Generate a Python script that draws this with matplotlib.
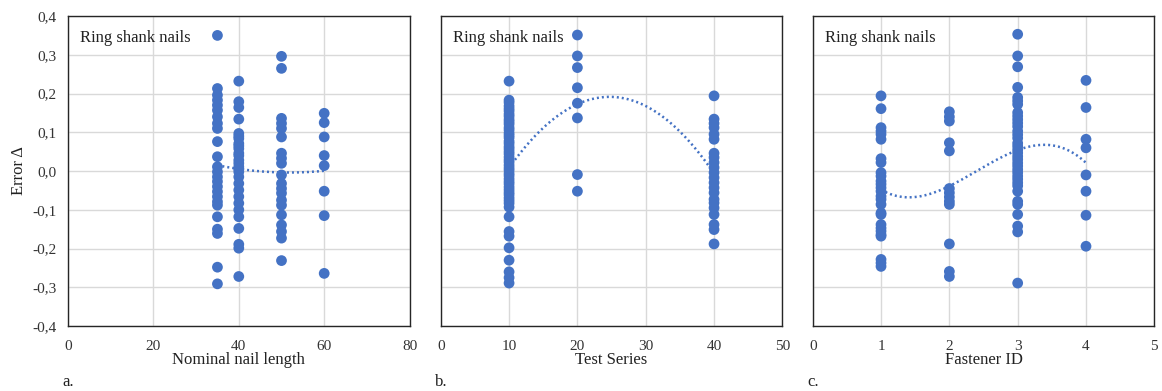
import numpy as np
import matplotlib
matplotlib.use("Agg")
import matplotlib.pyplot as plt
from matplotlib.ticker import FuncFormatter

plt.rcParams['font.family'] = ['Liberation Serif', 'DejaVu Serif']

BLUE = '#4472C4'
GRID = '#D9D9D9'

# ---- a. error vs nominal nail length ----
len_35 = [0.350, 0.213, 0.196, 0.183, 0.170, 0.157, 0.140, 0.123, 0.110, 0.076,
          0.037, 0.011, -0.002, -0.015, -0.027, -0.040, -0.053, -0.066, -0.079,
          -0.088, -0.118, -0.150, -0.161, -0.248, -0.291]
len_40 = [0.232, 0.179, 0.164, 0.134, 0.097, 0.090, 0.084, 0.071, 0.065, 0.058,
          0.046, 0.040, 0.028, 0.020, 0.011, 0.005, -0.002, -0.015, -0.032, -0.049,
          -0.066, -0.083, -0.100, -0.118, -0.148, -0.189, -0.199, -0.272]
len_50 = [0.296, 0.265, 0.136, 0.123, 0.110, 0.088, 0.046, 0.033, 0.020, -0.010,
          -0.032, -0.045, -0.057, -0.075, -0.088, -0.113, -0.139, -0.156, -0.173,
          -0.231]
len_60 = [0.149, 0.125, 0.088, 0.040, 0.014, -0.052, -0.115, -0.264]
lengths = [35, 40, 50, 60]

# ---- b. error vs test series ----
ser_10 = [0.232, 0.183, 0.177, 0.168, 0.161, 0.155, 0.147, 0.141, 0.133, 0.127,
          0.121, 0.112, 0.106, 0.098, 0.092, 0.086, 0.077, 0.071, 0.063, 0.057,
          0.050, 0.044, 0.036, 0.029, 0.023, 0.015, 0.008, 0.002, -0.006, -0.012,
          -0.020, -0.027, -0.033, -0.041, -0.048, -0.055, -0.061, -0.069, -0.076,
          -0.083, -0.093, -0.118, -0.156, -0.168, -0.198, -0.230, -0.260, -0.275,
          -0.289]
ser_20 = [0.351, 0.297, 0.267, 0.215, 0.175, 0.137, -0.009, -0.052]
ser_40 = [0.194, 0.134, 0.123, 0.112, 0.095, 0.082, 0.046, 0.035, 0.022, 0.009,
          -0.004, -0.017, -0.030, -0.043, -0.056, -0.073, -0.082, -0.095, -0.112,
          -0.138, -0.151, -0.188]
series = [10, 20, 40]

# ---- c. error vs fastener ID ----
fid_1 = [0.194, 0.161, 0.112, 0.103, 0.095, 0.082, 0.032, 0.022, -0.004, -0.013,
         -0.026, -0.034, -0.043, -0.052, -0.065, -0.073, -0.086, -0.108, -0.112,
         -0.138, -0.147, -0.155, -0.164, -0.168, -0.228, -0.237, -0.246]
fid_2 = [0.153, 0.140, 0.129, 0.073, 0.052, -0.045, -0.056, -0.067, -0.078, -0.086,
         -0.188, -0.259, -0.272]
fid_3 = [0.353, 0.297, 0.269, 0.216, 0.190, 0.181, 0.172, 0.151, 0.142, 0.133,
         0.124, 0.115, 0.103, 0.094, 0.085, 0.072, 0.064, 0.055, 0.047, 0.038,
         0.030, 0.021, 0.013, 0.004, -0.004, -0.013, -0.021, -0.030, -0.038,
         -0.052, -0.078, -0.086, -0.112, -0.142, -0.157, -0.289]
fid_4 = [0.234, 0.164, 0.082, 0.060, -0.010, -0.052, -0.114, -0.194]
fasteners = [1, 2, 3, 4]

panels = [
    dict(groups=[len_35, len_40, len_50, len_60], xs=lengths, deg=2,
         xlim=(0, 80), xticks=[0, 20, 40, 60, 80], xlabel='Nominal nail length',
         tag='a.', ylabels=True),
    dict(groups=[ser_10, ser_20, ser_40], xs=series, deg=2,
         xlim=(0, 50), xticks=[0, 10, 20, 30, 40, 50], xlabel='Test Series',
         tag='b.', ylabels=False),
    dict(groups=[fid_1, fid_2, fid_3, fid_4], xs=fasteners, deg=3,
         xlim=(0, 5), xticks=[0, 1, 2, 3, 4, 5], xlabel='Fastener ID',
         tag='c.', ylabels=False),
]

fig = plt.figure(figsize=(11.62, 3.91), dpi=100)
lefts = [0.0585, 0.3793, 0.6994]
width, bottom, height = 0.2940, 0.166, 0.793

comma = FuncFormatter(lambda v, p: f"{v:.1f}".replace('.', ',').replace('-0,0', '0,0'))

for left, p in zip(lefts, panels):
    ax = fig.add_axes([left, bottom, width, height])
    xv = np.concatenate([[x] * len(g) for x, g in zip(p['xs'], p['groups'])])
    yv = np.concatenate(p['groups'])

    ax.scatter(xv, yv, s=60, color=BLUE, edgecolors='none', zorder=3)

    coef = np.polyfit(xv, yv, p['deg'])
    xt = np.linspace(min(p['xs']), max(p['xs']), 200)
    ax.plot(xt, np.polyval(coef, xt), color=BLUE, lw=1.8,
            linestyle=(0, (0.8, 1.2)), zorder=2)

    ax.set_xlim(*p['xlim'])
    ax.set_ylim(-0.4, 0.4)
    ax.set_xticks(p['xticks'])
    ax.set_yticks(np.arange(-0.4, 0.41, 0.1))
    ax.yaxis.set_major_formatter(comma)
    ax.grid(True, color=GRID, lw=1.0, zorder=0)
    ax.set_axisbelow(True)
    ax.tick_params(axis='x', length=0, labelsize=11, colors='#333333', pad=10)
    ax.tick_params(axis='y', length=0, labelsize=11, colors='#333333', pad=8)
    if not p['ylabels']:
        ax.tick_params(labelleft=False)
    else:
        ax.set_ylabel('Error Δ', fontsize=12, color='#222222', labelpad=4)
    for s in ax.spines.values():
        s.set_color('#262626')
        s.set_linewidth(1.0)
    ax.set_xlabel(p['xlabel'], fontsize=12, color='#222222', labelpad=-1)
    ax.text(0.035, 0.93, 'Ring shank nails', transform=ax.transAxes,
            fontsize=12, color='#222222', va='center', ha='left')
    ax.text(-0.017, -0.18, p['tag'], transform=ax.transAxes,
            fontsize=12, color='#222222', va='center', ha='left')

fig.savefig('out.png', dpi=100)
